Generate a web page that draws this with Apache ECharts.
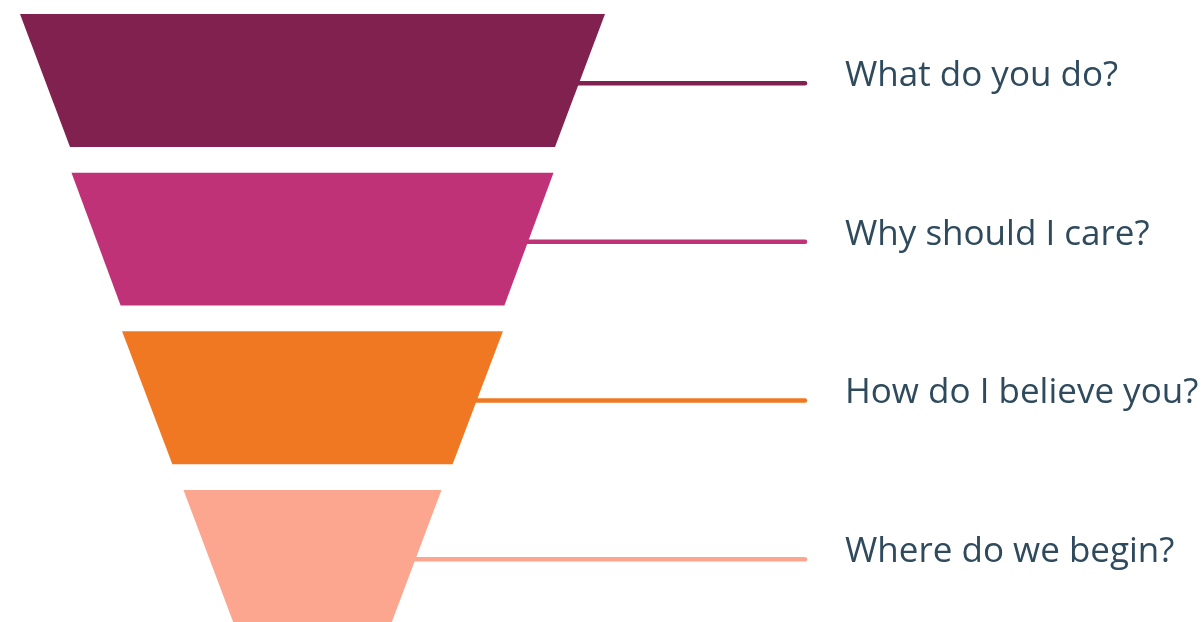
<!DOCTYPE html>
<html>
<head>
<meta charset="utf-8">
<script src="https://cdn.jsdelivr.net/npm/echarts@6/dist/echarts.min.js"></script>
<style>
  html, body { margin: 0; padding: 0; background: #ffffff; }
  #chart { width: 1203px; height: 622px; }
</style>
</head>
<body>
<div id="chart"></div>
<script>
// ---- data ----
const stages = ['What do you do?', 'Why should I care?', 'How do I believe you?', 'Where do we begin?'];
const topValues = [100, 82.4, 65.1, 44.1];
const bottomValues = [82.9, 65.6, 47.9, 27.0];

// ---- styles ----
const COLORS = ['#80214f', '#bf3277', '#f07823', '#fca690'];
const TEXT_COLOR = '#2e4a5c';
const BAND = 0.838;        // fraction of each stage slot filled by the trapezoid
const LINE_END_X = 805;    // px
const LABEL_X = 845;       // px

const chart = echarts.init(document.getElementById('chart'), null, { renderer: 'canvas' });

const seriesData = stages.map((s, i) => [i, topValues[i], bottomValues[i]]);

function renderItem(params, api) {
  const idx = params.dataIndex;
  const i = api.value(0), t = api.value(1), b = api.value(2);
  const tl = api.coord([-t / 2, i]);
  const tr = api.coord([t / 2, i]);
  const br = api.coord([b / 2, i + BAND]);
  const bl = api.coord([-b / 2, i + BAND]);
  const color = COLORS[idx];
  const ly = tl[1] + (bl[1] - tl[1]) * 0.52;
  const f = (ly - tr[1]) / (br[1] - tr[1]);
  const lx = tr[0] + (br[0] - tr[0]) * f;
  return {
    type: 'group',
    children: [
      { type: 'polygon', shape: { points: [tl, tr, br, bl] }, style: { fill: color } },
      { type: 'line', shape: { x1: lx - 2, y1: ly, x2: LINE_END_X, y2: ly },
        style: { stroke: color, lineWidth: 4.5, lineCap: 'round' } },
      { type: 'text', x: LABEL_X, y: ly - 7,
        style: { text: stages[idx], fill: TEXT_COLOR, fontSize: 35, fontFamily: '"Open Sans"',
                 align: 'left', verticalAlign: 'middle' } }
    ]
  };
}

chart.setOption({
  animation: false,
  backgroundColor: '#ffffff',
  grid: { left: 20, width: 585, top: 14, bottom: 0 },
  xAxis: { type: 'value', min: -50, max: 50, show: false },
  yAxis: { type: 'value', min: 0, max: 3.832, inverse: true, show: false },
  series: [{
    type: 'custom',
    renderItem: renderItem,
    clip: false,
    data: seriesData
  }]
});
</script>
</body>
</html>
